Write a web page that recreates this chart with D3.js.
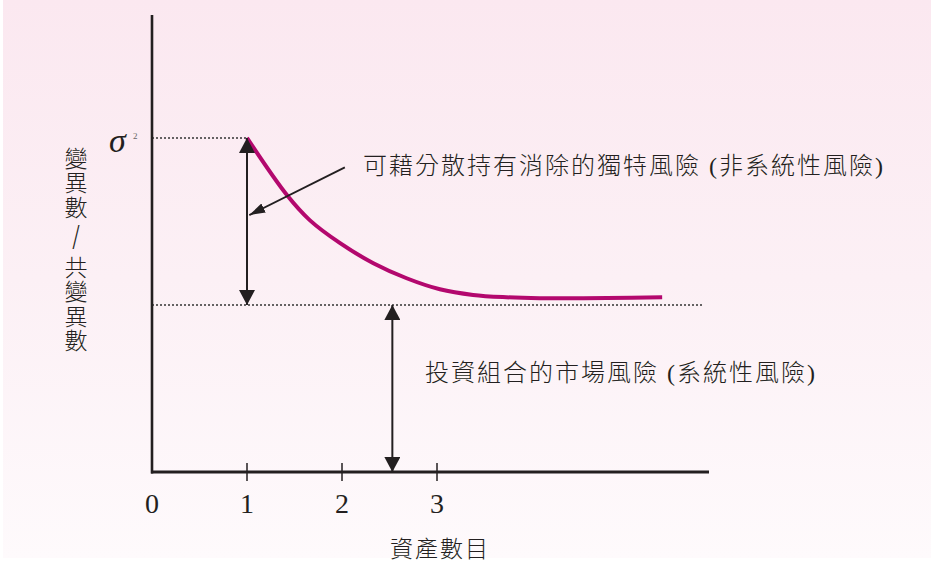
<!DOCTYPE html>
<html>
<head>
<meta charset="utf-8">
<script src="https://cdn.jsdelivr.net/npm/d3@7"></script>
<style>
  html, body { margin: 0; padding: 0; background: #fff; }
  svg { display: block; }
</style>
</head>
<body>
<svg id="chart"></svg>
<script>
// diversification curve: number of assets vs portfolio variance (sigma^2 = 1)
const nAssets  = [1, 1.42, 1.66, 1.98, 2.33, 2.68, 3.03, 3.38, 3.73, 4.08, 4.43, 4.79, 5.37];
const variance = [1, 0.829, 0.754, 0.685, 0.625, 0.580, 0.547, 0.530, 0.523, 0.520, 0.520, 0.521, 0.523];
const sigma2 = 1;
const marketRisk = 0.5;
const tickValues = [0, 1, 2, 3];
const tickLabels = ["0", "1", "2", "3"];
const xTitle = "資產數目";
const yTitleChars = ["變", "異", "數", "/", "共", "變", "異", "數"];
const uniqueText = "可藉分散持有消除的獨特風險 (非系統性風險)";
const marketText = "投資組合的市場風險 (系統性風險)";

const width = 931, height = 562;
const serif = "'Liberation Serif', 'Noto Sans CJK TC', serif";
const ink = "#231f20";

const svg = d3.select("#chart").attr("width", width).attr("height", height);

// background gradient
const defs = svg.append("defs");
const grad = defs.append("linearGradient").attr("id", "bg")
  .attr("x1", 0).attr("y1", 0).attr("x2", 0).attr("y2", 1);
grad.append("stop").attr("offset", "0%").attr("stop-color", "#fbe8f0");
grad.append("stop").attr("offset", "50%").attr("stop-color", "#fcf0f5");
grad.append("stop").attr("offset", "100%").attr("stop-color", "#fefafc");
svg.append("rect").attr("x", 3).attr("y", 0).attr("width", width - 3).attr("height", 558)
  .attr("fill", "url(#bg)");

// arrow heads
function marker(id, len, wid) {
  defs.append("marker").attr("id", id)
    .attr("markerUnits", "userSpaceOnUse")
    .attr("viewBox", `0 0 ${len} ${wid}`)
    .attr("markerWidth", len).attr("markerHeight", wid)
    .attr("refX", len).attr("refY", wid / 2)
    .attr("orient", "auto-start-reverse")
    .append("path").attr("d", `M0,0L${len},${wid / 2}L0,${wid}Z`).attr("fill", ink);
}
marker("big", 15, 16);
marker("small", 16, 10);

const xMax = 5.863, yMax = 1.368;
const x = d3.scaleLinear().domain([0, xMax]).range([152, 709]);
const y = d3.scaleLinear().domain([0, yMax]).range([472, 15]);

const g = svg.append("g");

// dotted reference lines
g.append("line")
  .attr("x1", x(0)).attr("x2", x(1)).attr("y1", y(sigma2)).attr("y2", y(sigma2))
  .attr("stroke", "#333").attr("stroke-width", 1.6).attr("stroke-dasharray", "2,2");
g.append("line")
  .attr("x1", x(0)).attr("x2", 704).attr("y1", y(marketRisk)).attr("y2", y(marketRisk))
  .attr("stroke", "#333").attr("stroke-width", 1.6).attr("stroke-dasharray", "2,2");

// axes
g.append("line").attr("x1", x(0)).attr("x2", x(0)).attr("y1", y(yMax)).attr("y2", y(0) + 1.5)
  .attr("stroke", ink).attr("stroke-width", 2.6);
g.append("line").attr("x1", x(0) - 1).attr("x2", x(xMax)).attr("y1", y(0)).attr("y2", y(0))
  .attr("stroke", ink).attr("stroke-width", 3);

g.selectAll(".tick").data(tickValues.filter(d => d > 0)).join("line")
  .attr("class", "tick")
  .attr("x1", d => x(d)).attr("x2", d => x(d))
  .attr("y1", y(0) - 9).attr("y2", y(0) + 9)
  .attr("stroke", ink).attr("stroke-width", 1.5);

g.selectAll(".tlabel").data(tickValues).join("text")
  .attr("class", "tlabel")
  .attr("x", d => x(d)).attr("y", 513)
  .attr("text-anchor", "middle")
  .attr("font-family", serif).attr("font-size", 28).attr("fill", ink)
  .text((d, i) => tickLabels[i]);

// curve
const line = d3.line().x(d => x(d[0])).y(d => y(d[1])).curve(d3.curveCatmullRom);
g.append("path")
  .datum(nAssets.map((n, i) => [n, variance[i]]))
  .attr("d", line)
  .attr("fill", "none").attr("stroke", "#b3086e").attr("stroke-width", 4);

// unique-risk double arrow at n = 1
g.append("line")
  .attr("x1", x(1)).attr("x2", x(1)).attr("y1", y(sigma2)).attr("y2", y(marketRisk))
  .attr("stroke", ink).attr("stroke-width", 2)
  .attr("marker-start", "url(#big)").attr("marker-end", "url(#big)");

// market-risk double arrow
g.append("line")
  .attr("x1", x(2.53)).attr("x2", x(2.53)).attr("y1", y(marketRisk)).attr("y2", y(0))
  .attr("stroke", ink).attr("stroke-width", 2)
  .attr("marker-start", "url(#big)").attr("marker-end", "url(#big)");

// pointer from annotation
g.append("line")
  .attr("x1", x(2.03)).attr("y1", y(0.912)).attr("x2", x(1.024)).attr("y2", y(0.769))
  .attr("stroke", ink).attr("stroke-width", 1.8)
  .attr("marker-end", "url(#small)");

// sigma^2 label
g.append("text").attr("x", 109).attr("y", 152)
  .attr("font-family", serif).attr("font-style", "italic").attr("font-size", 34).attr("fill", ink)
  .text("σ");
g.append("text").attr("x", 133).attr("y", 139)
  .attr("font-family", serif).attr("font-size", 9).attr("fill", "#666")
  .text("2");

// annotations
g.append("text").attr("x", 363).attr("y", 174)
  .attr("font-family", serif).attr("font-size", 24).attr("font-weight", 300)
  .attr("letter-spacing", 2).attr("fill", ink)
  .text(uniqueText);
g.append("text").attr("x", 425).attr("y", 381)
  .attr("font-family", serif).attr("font-size", 24).attr("font-weight", 300)
  .attr("letter-spacing", 2).attr("fill", ink)
  .text(marketText);

// axis titles
g.append("text").attr("x", 440).attr("y", 549)
  .attr("text-anchor", "middle").attr("dominant-baseline", "central")
  .attr("font-family", serif).attr("font-size", 23).attr("font-weight", 300)
  .attr("letter-spacing", 2).attr("fill", ink)
  .text(xTitle);

let cy = 159;
const yPos = yTitleChars.map((c, i) => {
  if (i > 0) cy += (c === "/" || yTitleChars[i - 1] === "/") ? 30 : 24.5;
  return cy;
});
g.selectAll(".ytitle").data(yTitleChars).join("text")
  .attr("class", "ytitle")
  .attr("transform", (d, i) => d === "/"
    ? `translate(76,${yPos[i]}) scale(0.9,1.25)`
    : `translate(76,${yPos[i]})`)
  .attr("y", d => d === "/" ? 9 : 0)
  .attr("text-anchor", "middle")
  .attr("dominant-baseline", d => d === "/" ? "auto" : "central")
  .attr("font-family", serif).attr("font-weight", 300)
  .attr("font-size", d => d === "/" ? 28 : 23).attr("fill", ink)
  .text(d => d);
</script>
</body>
</html>
